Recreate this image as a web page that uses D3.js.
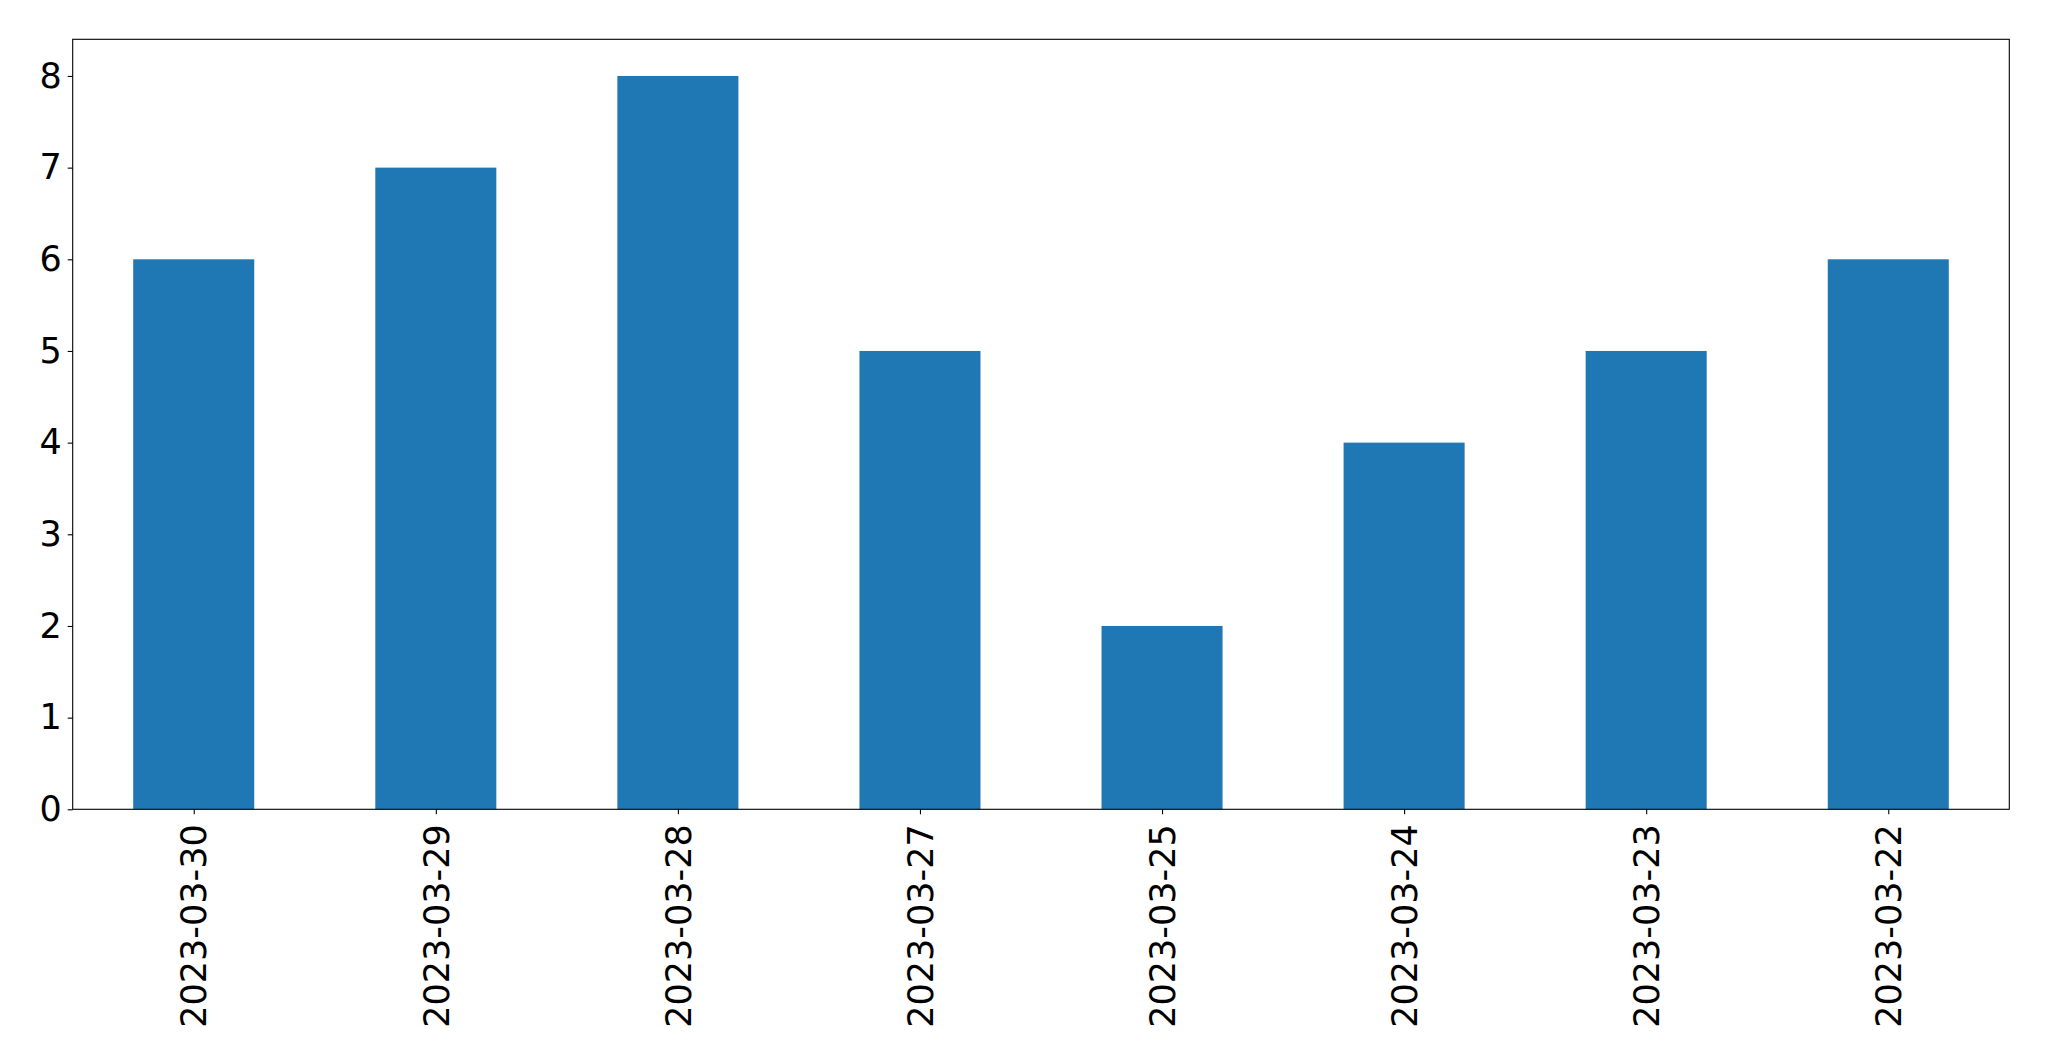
<!DOCTYPE html>
<html>
<head>
<meta charset="utf-8">
<script src="https://cdn.jsdelivr.net/npm/d3@7"></script>
<style>
  html, body { margin: 0; padding: 0; background: #fff; }
  svg { display: block; }
</style>
</head>
<body>
<svg id="chart" width="2049" height="1061"></svg>
<script>
const categories = ["2023-03-30", "2023-03-29", "2023-03-28", "2023-03-27", "2023-03-25", "2023-03-24", "2023-03-23", "2023-03-22"];
const values = [6, 7, 8, 5, 2, 4, 5, 6];
const yTicks = [0, 1, 2, 3, 4, 5, 6, 7, 8];

const svg = d3.select("#chart");
const mLeft = 72.7, mRight = 2009.3, mTop = 39.3, mBottom = 809.3;
const fontFamily = "'DejaVu Sans', sans-serif";
const fontSize = 35;

const x = d3.scaleLinear().domain([-0.5, categories.length - 0.5]).range([mLeft, mRight]);
const y = d3.scaleLinear().domain([0, 8.4]).range([mBottom, mTop]);
const barW = 0.5;

svg.append("g").selectAll("rect").data(values).enter().append("rect")
  .attr("x", (d, i) => x(i - barW / 2))
  .attr("width", (d, i) => x(i + barW / 2) - x(i - barW / 2))
  .attr("y", d => y(d))
  .attr("height", d => y(0) - y(d))
  .attr("fill", "#1f77b4");

// y axis
const yAxis = d3.axisLeft(y).tickValues(yTicks).tickFormat(d3.format("d")).tickSize(5).tickPadding(6);
const gy = svg.append("g").attr("transform", `translate(${mLeft},0)`).call(yAxis);
gy.select(".domain").remove();
gy.selectAll("line").attr("stroke", "#000").attr("stroke-width", 1.1);
gy.selectAll("text").attr("font-family", fontFamily).attr("font-size", fontSize).attr("fill", "#000");

// x axis
const xAxis = d3.axisBottom(x).tickValues(d3.range(categories.length)).tickFormat(i => categories[i]).tickSize(5).tickPadding(6);
const gx = svg.append("g").attr("transform", `translate(0,${mBottom})`).call(xAxis);
gx.select(".domain").remove();
gx.selectAll("line").attr("stroke", "#000").attr("stroke-width", 1.1);
gx.selectAll("text")
  .attr("font-family", fontFamily).attr("font-size", fontSize).attr("fill", "#000")
  .attr("text-anchor", "end")
  .attr("x", 0).attr("y", 0)
  .attr("dy", "0.35em")
  .attr("transform", "translate(0,15) rotate(-90)");

// frame
svg.append("rect")
  .attr("x", mLeft).attr("y", mTop)
  .attr("width", mRight - mLeft).attr("height", mBottom - mTop)
  .attr("fill", "none").attr("stroke", "#000").attr("stroke-width", 1.1);
</script>
</body>
</html>
